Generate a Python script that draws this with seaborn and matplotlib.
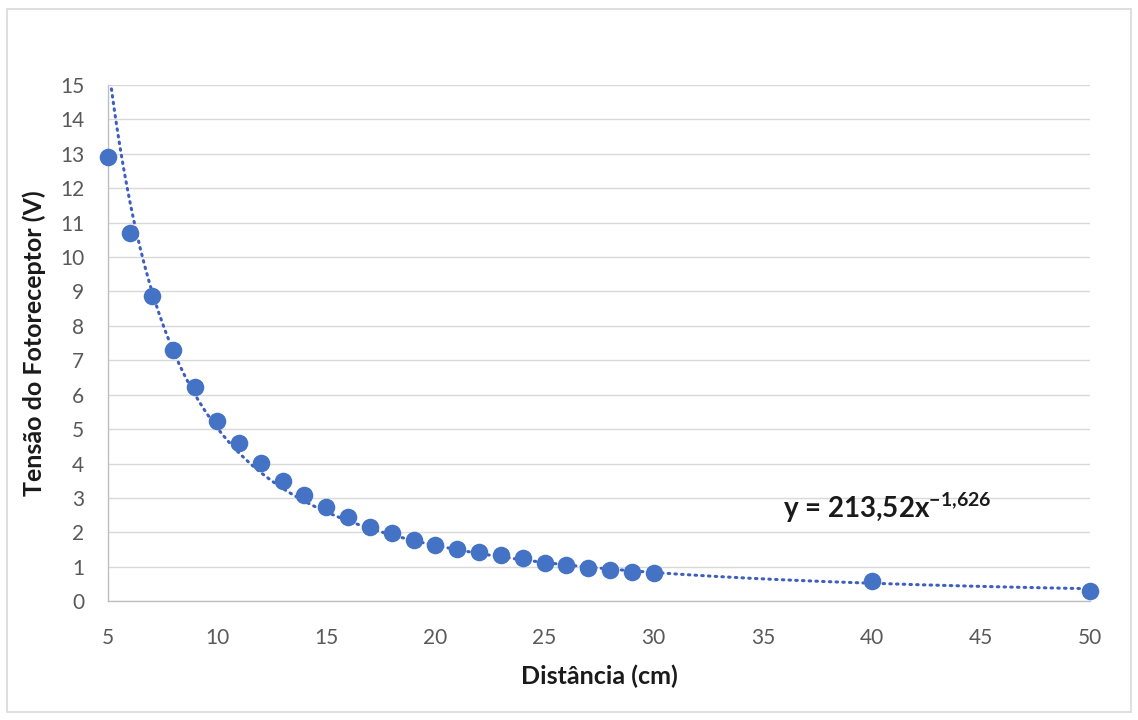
import numpy as np
import pandas as pd
import seaborn as sns
import matplotlib
matplotlib.use('Agg')
import matplotlib.pyplot as plt
from matplotlib.patches import Rectangle

# distance (cm) and photoreceptor voltage (V)
distancia = [5, 6, 7, 8, 9, 10, 11, 12, 13, 14, 15, 16, 17, 18, 19, 20,
             21, 22, 23, 24, 25, 26, 27, 28, 29, 30, 40, 50]
tensao = [12.9, 10.7, 8.87, 7.3, 6.22, 5.23, 4.59, 4.01, 3.49, 3.08, 2.73,
          2.44, 2.15, 1.98, 1.77, 1.63, 1.51, 1.42, 1.34, 1.25, 1.10, 1.05,
          0.96, 0.90, 0.84, 0.81, 0.58, 0.29]
equacao = r"y = 213,52x$^{\mathrm{-1{,}626}}$"

df = pd.DataFrame({"x": distancia, "y": tensao})

sns.set_style("white")
plt.rcParams['font.family'] = ['Lato', 'DejaVu Sans']
# only mathtext in the chart is the bold exponent of the equation
plt.rcParams['mathtext.fontset'] = 'custom'
plt.rcParams['mathtext.rm'] = 'Lato:bold'
plt.rcParams['mathtext.bf'] = 'Lato:bold'

fig = plt.figure(figsize=(11.38, 7.2), dpi=100)
ax = fig.add_axes([0.0949, 0.165, 0.8631, 0.717])

# power trendline, fitted in log-log space like Excel does
b, log_a = np.polyfit(np.log(df["x"]), np.log(df["y"]), 1)
xs = np.linspace(5, 50, 400)
ax.plot(xs, np.exp(log_a) * xs ** b, color="#3f5fc0", lw=2.2,
        linestyle=(0, (0.5, 1.7)), dash_capstyle="round", zorder=2)

sns.scatterplot(data=df, x="x", y="y", ax=ax, color="#4472C4", s=160,
                edgecolor="#4472C4", linewidth=0, zorder=3, clip_on=False)

ax.set_xlim(5, 50)
ax.set_ylim(0, 15)
ax.set_xticks(range(5, 51, 5))
ax.set_yticks(range(0, 16))
ax.yaxis.grid(True, color="#d9d9d9", lw=1.0)
ax.set_axisbelow(True)
for s in ["top", "right"]:
    ax.spines[s].set_visible(False)
for s in ["bottom", "left"]:
    ax.spines[s].set_color("#bfbfbf")
    ax.spines[s].set_linewidth(1.0)
ax.tick_params(axis="both", length=0, labelsize=15, labelcolor="#595959")
ax.tick_params(axis="y", pad=17)
ax.tick_params(axis="x", pad=19)

ax.set_xlabel("Distância (cm)", fontsize=18, fontweight="bold", color="#1a1a1a", labelpad=12)
ax.set_ylabel("Tensão do Fotoreceptor (V)", fontsize=18, fontweight="bold", color="#1a1a1a", labelpad=10)

ax.text(40.7, 2.73, equacao, fontsize=20, fontweight="bold", color="#1a1a1a",
        ha="center", va="center")

fig.patches.append(Rectangle((0.006, 0.011), 0.988, 0.977, transform=fig.transFigure,
                             fill=False, edgecolor="#d9d9d9", lw=1.2))

fig.savefig("out.png", dpi=100)
